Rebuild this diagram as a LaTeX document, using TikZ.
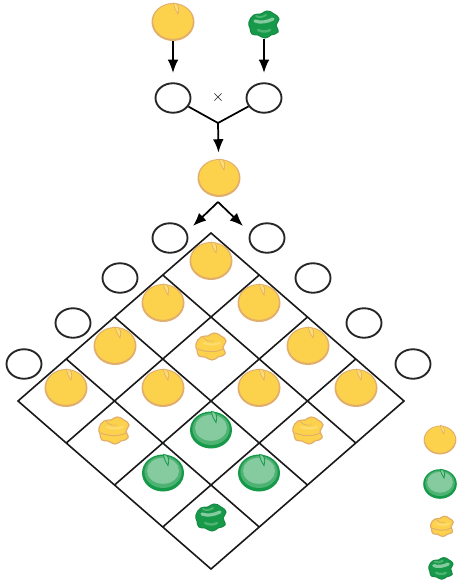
\documentclass[tikz,border=0pt]{standalone}
\usetikzlibrary{arrows.meta,shapes.geometric}
\definecolor{yfill}{HTML}{FCD24C}
\definecolor{ytan}{HTML}{E2AE6C}
\definecolor{yhil}{HTML}{FDDD72}
\definecolor{gdark}{HTML}{17994A}
\definecolor{gmid}{HTML}{4DB373}
\definecolor{glight}{HTML}{86CBA0}
\begin{document}
\begin{tikzpicture}[x=0.75pt,y=-0.75pt,
  gamete/.style={draw=black!85, ellipse, line width=1.4pt,
    minimum width=35*0.75pt, minimum height=29.5*0.75pt, inner sep=0pt},
  peabox/.style 2 args={ellipse, inner sep=0pt,
    minimum width=#1*0.75pt, minimum height=#2*0.75pt},
  arr/.style={-{Latex[length=10pt,width=8pt]}, line width=1.3pt},
  gridline/.style={line width=1.2pt, draw=black!90},
  % smooth yellow seed
  yround/.pic={
    \fill[ytan] (0,0) ellipse [x radius=21.5, y radius=19];
    \fill[yfill] (0,-0.6) ellipse [x radius=19.8, y radius=17.4];
    \filldraw[fill=yhil, draw=ytan, line width=0.5pt]
      (0.5,-19) .. controls (5,-19.5) and (7,-14) .. (5,-8)
      .. controls (3,-11) and (1,-14) .. cycle;
  },
  % smooth green seed
  ground/.pic={
    \fill[gdark] (0,0) ellipse [x radius=21, y radius=18.5];
    \fill[gmid] (0,-1) ellipse [x radius=18.6, y radius=16];
    \fill[glight] (0,-2.2) ellipse [x radius=16, y radius=13];
    \filldraw[fill=glight, draw=gdark, line width=0.6pt]
      (0.5,-18.5) .. controls (5,-19) and (7,-13.5) .. (5,-7.5)
      .. controls (3,-10.5) and (1,-13.5) .. cycle;
  },
  % wrinkled yellow seed
  ywrink/.pic={
    \filldraw[fill=yfill, draw=ytan, line width=0.9pt]
      plot[smooth cycle, tension=0.9] coordinates {(-15,-2) (-10,-9) (-3,-10) (3,-13)
      (10,-10) (15,-5) (12,1) (14,8) (7,11) (1,14) (-6,11) (-12,10) (-14,4)};
    \draw[ytan, line width=0.7pt, line cap=round]
      (-13,3) .. controls (-6,6) and (4,7) .. (12,3);
    \draw[ytan, line width=0.5pt, line cap=round]
      (-8,-9) .. controls (-6,-6) and (-2,-4) .. (3,-5);
    \draw[yhil, line width=1.5pt, line cap=round]
      (-7,-3) .. controls (-2,-1) and (4,-1) .. (9,-3);
  },
  % wrinkled green seed
  gwrink/.pic={
    \filldraw[fill=gdark, draw=gdark!90!black, line width=0.8pt]
      plot[smooth cycle, tension=0.9] coordinates {(-15,-2) (-10,-9) (-3,-10) (3,-13)
      (10,-10) (15,-5) (12,1) (14,8) (7,11) (1,14) (-6,11) (-12,10) (-14,4)};
    \draw[glight, line width=2.4pt, line cap=round]
      (-9,-3) .. controls (-4,-1) and (3,-2) .. (9,-5);
    \draw[gmid, line width=1.8pt, line cap=round]
      (-6,6) .. controls (-2,8) and (3,8) .. (6,6);
    \draw[gmid, line width=1.4pt, line cap=round]
      (-8,-8) .. controls (-5,-6) and (-1,-7) .. (2,-9);
  }]
\useasboundingbox (0,0) rectangle (458,581);

% parents
\pic at (173,22) {yround};
\node[peabox={43}{38}] (py) at (173,22) {};
\pic at (264,24) {gwrink};
\node[peabox={32}{29}] (pg) at (264,24) {};

% parental gametes
\node[gamete] (g1) at (173,98) {};
\node[gamete] (g2) at (264,98) {};
\node (cross) at (218,98) {\large$\times$};
\draw[arr, shorten >=7pt] (py) -- (g1);
\draw[arr, shorten >=7pt] (pg) -- (g2);

% F1 seed
\coordinate (jn) at (218,123);
\draw[line width=1.3pt] (g1) -- (jn) -- (g2);
\pic at (219,178) {yround};
\node[peabox={43}{37}] (f1) at (219,178) {};
\draw[arr, shorten >=5pt] (jn) -- (f1);
\coordinate (sp) at (218,202);
\coordinate (tl) at (193,226);
\coordinate (tr) at (243,226);
\draw[arr] (sp) -- (tl);
\draw[arr] (sp) -- (tr);

% F1 gametes along the upper edges
\node[gamete] (l1) at (170,238) {};
\node[gamete] (l2) at (120,278) {};
\node[gamete] (l3) at (73,323) {};
\node[gamete] (l4) at (24,364) {};
\node[gamete] (r1) at (267,238) {};
\node[gamete] (r2) at (313,278) {};
\node[gamete] (r3) at (364,323) {};
\node[gamete] (r4) at (413,364) {};

% Punnett square, turned on its corner
\foreach \i in {0,...,4}
  \foreach \j in {0,...,4}
    \coordinate (P\i\j) at ({211+48.25*(\j-\i)},{233+42*(\i+\j)});
\draw[gridline] (P00) -- (P40) -- (P44) -- (P04) -- cycle;
\foreach \k in {1,2,3} {
  \draw[gridline] (P\k0) -- (P\k4);
  \draw[gridline] (P0\k) -- (P4\k);
}

% offspring
\foreach \p in {(211,261),(163,303),(259,303),(115,346),(308,346),
                (66,388),(163,388),(259,388),(356,388)}
  \pic at \p {yround};
\foreach \p in {(211,346),(114,430),(308,430)}
  \pic at \p {ywrink};
\foreach \p in {(211,430),(163,473),(259,473)}
  \pic at \p {ground};
\pic at (211,517) {gwrink};

% phenotype key
\pic[scale=0.76] at (440,440) {yround};
\pic[scale=0.8] at (440,484) {ground};
\pic[scale=0.75] at (442,526) {ywrink};
\pic[scale=0.8] at (441,568) {gwrink};
\end{tikzpicture}
\end{document}
